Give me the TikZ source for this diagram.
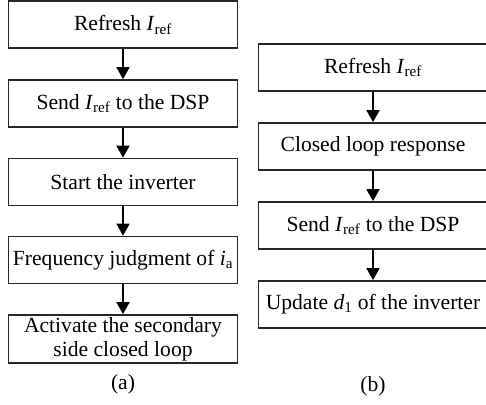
\documentclass[tikz,border=0pt]{standalone}
\usepackage{fontspec}
\setmainfont{Liberation Serif}
\usepackage{tikz}
\usetikzlibrary{arrows.meta}

\newcommand{\Iref}{\textit{I}\textsubscript{ref}}

\tikzset{
    stepbox/.style={draw=black!85, line width=1.7pt, minimum width=229pt,
        minimum height=47pt, inner sep=2pt, align=center},
    flow/.style={line width=1.5pt, -{Triangle[length=12pt,width=13pt]}}
}

\begin{document}
\begin{tikzpicture}[x=1pt,y=-1pt,font=\fontsize{21.6}{24}\selectfont]
                \useasboundingbox (0,0) rectangle (486,404);
                % (a) start-up sequence
                \node[stepbox] at (123,24.75) (a1) {Refresh \Iref};
                \node[stepbox] at (123,103.5) (a2) {Send \Iref{} to the DSP};
                \node[stepbox] at (123,182) (a3) {Start the inverter};
                \node[stepbox] at (123,260) (a4) {Frequency judgment of \textit{i}\textsubscript{a}};
                \node[stepbox, minimum height=48pt] at (123,339) (a5) {Activate the secondary\\side closed loop};
                \node at (123,384) (la) {(a)};
                % (b) running loop
                \node[stepbox] at (373,67.5) (b1) {Refresh \Iref};
                \node[stepbox] at (373,146.5) (b2) {Closed loop response};
                \node[stepbox] at (373,225.5) (b3) {Send \Iref{} to the DSP};
                \node[stepbox] at (373,304.5) (b4) {Update \textit{d}\textsubscript{1} of the inverter};
                \node at (373,386) (lb) {(b)};
                \path[flow]
                    (a1) edge (a2)
                    (a2) edge (a3)
                    (a3) edge (a4)
                    (a4) edge (a5)
                    (b1) edge (b2)
                    (b2) edge (b3)
                    (b3) edge (b4);
            \end{tikzpicture}
\end{document}
